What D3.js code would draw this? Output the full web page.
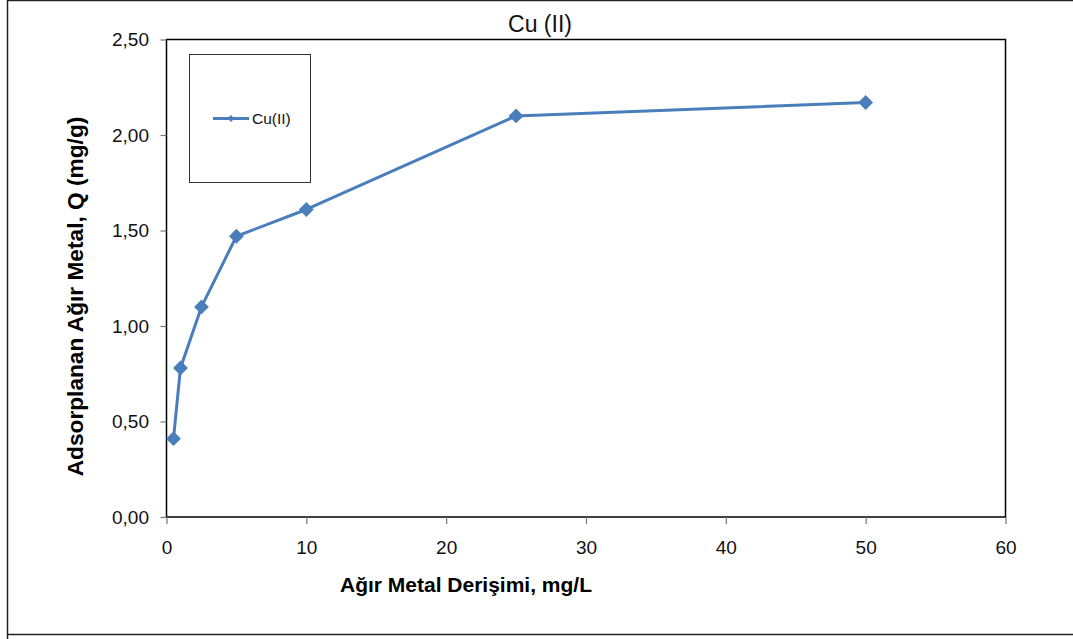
<!DOCTYPE html>
<html><head><meta charset="utf-8">
<script src="https://cdn.jsdelivr.net/npm/d3@7"></script>
<style>body{margin:0;background:#fff}svg{display:block}</style>
</head><body>
<svg id="c" width="1073" height="639"></svg>
<script>
const xValues = [0.5, 1, 2.5, 5, 10, 25, 50];
const yValues = [0.41, 0.78, 1.10, 1.47, 1.61, 2.10, 2.17];
const xTicks = [0, 10, 20, 30, 40, 50, 60];
const yTicks = [0, 0.5, 1.0, 1.5, 2.0, 2.5];
const seriesName = "Cu(II)";
const title = "Cu (II)";
const xLabel = "Ağır Metal Derişimi, mg/L";
const yLabel = "Adsorplanan Ağır Metal, Q (mg/g)";

const svg = d3.select("#c");
const color = "#4a7ebb";
const font = "Liberation Sans, Arial, sans-serif";
const L = 166.5, R = 1005.5, T = 39.5, B = 517;

// outer frame
svg.append("path").attr("d", "M7.5,639 V634.5 H1073 M7.5,634.5 V0.5 H1073")
  .attr("fill","none").attr("stroke","#222").attr("stroke-width",1.5);

const x = d3.scaleLinear().domain([0,60]).range([L,R]);
const y = d3.scaleLinear().domain([0,2.5]).range([B,T]);

// plot box
svg.append("rect").attr("x",L).attr("y",T).attr("width",R-L).attr("height",B-T)
  .attr("fill","none").attr("stroke","#000").attr("stroke-width",1.5);

const fmt = d => d3.format(".2f")(d).replace(".", ",");
const yAxis = svg.append("g").attr("transform",`translate(${L},0)`)
  .call(d3.axisLeft(y).tickValues(yTicks).tickSize(6).tickPadding(11.5).tickFormat(fmt));
const xAxis = svg.append("g").attr("transform",`translate(0,${B})`)
  .call(d3.axisBottom(x).tickValues(xTicks).tickSize(7).tickPadding(17).tickFormat(d3.format("d")));
[xAxis,yAxis].forEach(a=>{
  a.select(".domain").remove();
  a.selectAll("line").attr("stroke","#777").attr("stroke-width",1.2);
  a.selectAll("text").attr("font-family",font).attr("font-size",19).attr("fill","#111");
});

// title
svg.append("text").attr("x",540).attr("y",32).attr("text-anchor","middle")
  .attr("font-family",font).attr("font-size",23).attr("fill","#111").text(title);
// axis titles
svg.append("text").attr("x",466).attr("y",591.5).attr("text-anchor","middle")
  .attr("font-family",font).attr("font-size",21).attr("font-weight","bold").attr("fill","#000").text(xLabel);
svg.append("text").attr("transform","translate(83,296.5) rotate(-90)").attr("text-anchor","middle")
  .attr("font-family",font).attr("font-size",22.7).attr("font-weight","bold").attr("fill","#000").text(yLabel);

// line
const data = xValues.map((v,i)=>({x:v,y:yValues[i]}));
svg.append("path").datum(data)
  .attr("d", d3.line().x(d=>x(d.x)).y(d=>y(d.y)))
  .attr("fill","none").attr("stroke",color).attr("stroke-width",3).attr("stroke-linejoin","round");
svg.selectAll(".pt").data(data).enter().append("path")
  .attr("transform",d=>`translate(${x(d.x)},${y(d.y)}) rotate(45)`)
  .attr("d", d3.symbol().type(d3.symbolSquare).size(110)).attr("fill",color);

// legend
svg.append("rect").attr("x",189.5).attr("y",54.5).attr("width",121).attr("height",128)
  .attr("fill","#fff").attr("stroke","#333").attr("stroke-width",1);
svg.append("line").attr("x1",213).attr("x2",249).attr("y1",118.5).attr("y2",118.5)
  .attr("stroke",color).attr("stroke-width",3);
svg.append("path").attr("transform","translate(231,118.5) rotate(45)")
  .attr("d", d3.symbol().type(d3.symbolSquare).size(24)).attr("fill",color);
svg.append("text").attr("x",252).attr("y",124).attr("font-family",font).attr("font-size",15.5)
  .attr("fill","#111").text(seriesName);
</script>
</body></html>
